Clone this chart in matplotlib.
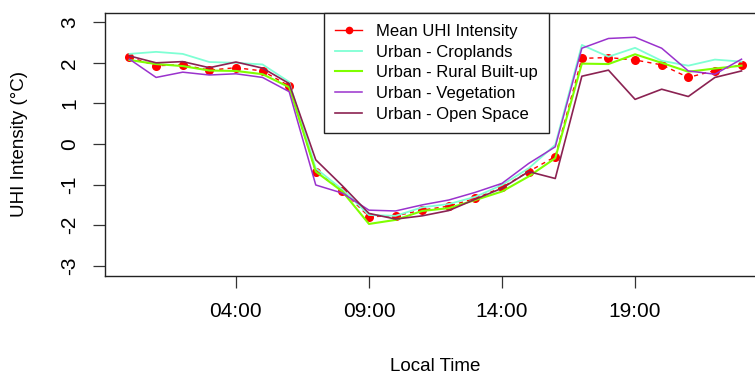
import matplotlib
matplotlib.use("Agg")
import matplotlib.pyplot as plt
from matplotlib.lines import Line2D
import numpy as np

plt.rcParams['font.family'] = ['Liberation Sans', 'DejaVu Sans']

hours = np.arange(24)

mean_uhi = [2.14, 1.93, 1.95, 1.82, 1.88, 1.80, 1.43, -0.68, -1.15, -1.79, -1.77, -1.63,
            -1.53, -1.34, -1.07, -0.68, -0.31, 2.11, 2.13, 2.07, 1.95, 1.64, 1.81, 1.95]
croplands = [2.22, 2.27, 2.22, 2.02, 2.00, 1.96, 1.53, -0.60, -1.12, -1.75, -1.77, -1.56,
             -1.48, -1.30, -1.01, -0.60, -0.02, 2.44, 2.15, 2.37, 2.05, 1.93, 2.08, 2.03]
rural_builtup = [2.07, 1.97, 1.92, 1.81, 1.80, 1.72, 1.40, -0.68, -1.17, -1.97, -1.87, -1.65,
                 -1.58, -1.38, -1.17, -0.80, -0.35, 1.98, 1.97, 2.21, 2.00, 1.78, 1.86, 1.93]
vegetation = [2.09, 1.64, 1.77, 1.70, 1.73, 1.64, 1.29, -1.01, -1.21, -1.63, -1.65, -1.50,
              -1.38, -1.19, -0.97, -0.48, -0.07, 2.36, 2.60, 2.63, 2.36, 1.80, 1.72, 2.09]
open_space = [2.17, 2.00, 2.03, 1.88, 2.02, 1.87, 1.49, -0.39, -1.03, -1.71, -1.85, -1.77,
              -1.64, -1.36, -1.09, -0.68, -0.85, 1.67, 1.82, 1.10, 1.35, 1.17, 1.64, 1.80]

tick_hours = [4, 9, 14, 19]
tick_labels = ['04:00', '09:00', '14:00', '19:00']

W, H = 755, 375
fig = plt.figure(figsize=(W / 100, H / 100), dpi=100)
ax = fig.add_axes([105 / W, 1 - 275.5 / H, (766 - 105) / W, (275.5 - 12.5) / H])

# mean curve first, land-cover lines on top
ax.plot(hours, mean_uhi, color='red', ls=(0, (3, 3)), lw=1.0,
        marker='o', markersize=6.5, markeredgewidth=0, zorder=2)

series = [
    (croplands, '#7FFFD4', 1.3, 'Urban - Croplands'),
    (rural_builtup, '#7FFF00', 1.5, 'Urban - Rural Built-up'),
    (vegetation, '#9A32CD', 1.1, 'Urban - Vegetation'),
    (open_space, '#8B2252', 1.2, 'Urban - Open Space'),
]
for vals, col, lw, lab in series:
    ax.plot(hours, vals, color=col, lw=lw, zorder=3)

ax.set_xlim(-0.92, 23.92)
ax.set_ylim(-3.24, 3.24)
ax.set_xticks(tick_hours)
ax.set_xticklabels(tick_labels)
ax.set_yticks(np.arange(-3, 4))
ax.set_yticklabels([str(v) for v in range(-3, 4)])

ax.tick_params(axis='both', length=8.6, width=0.9, labelsize=15, color='#333333')
ax.tick_params(axis='x', pad=10.3)
ax.tick_params(axis='y', pad=10.0)
for lbl in ax.get_yticklabels():
    lbl.set_rotation(90)
    lbl.set_va('center')
    lbl.set_ha('right')
for sp in ax.spines.values():
    sp.set_linewidth(1.0)
    sp.set_color('#222222')

fig.text(435.5 / W, 1 - 371 / H, 'Local Time', fontsize=13.5,
         ha='center', va='baseline')
fig.text(20 / W, 1 - 144 / H, 'UHI Intensity (°C)', fontsize=13.5,
         rotation=90, ha='center', va='center')

handles = [Line2D([], [], color='red', lw=1.0, marker='o', markersize=5.5,
                  markeredgewidth=0)]
handles += [Line2D([], [], color=c, lw=lw) for _, c, lw, _ in series]
labels = ['Mean UHI Intensity'] + [s[3] for s in series]
leg = ax.legend(handles, labels, loc='upper left',
                bbox_to_anchor=(324 / W, 1 - 12.5 / H), bbox_transform=fig.transFigure,
                borderaxespad=0, fontsize=12, handlelength=1.6, handletextpad=0.85,
                borderpad=0.68, labelspacing=0.34, fancybox=False, framealpha=1,
                edgecolor='#222222')
leg.get_frame().set_linewidth(1.0)

fig.savefig('out.png', dpi=100)
